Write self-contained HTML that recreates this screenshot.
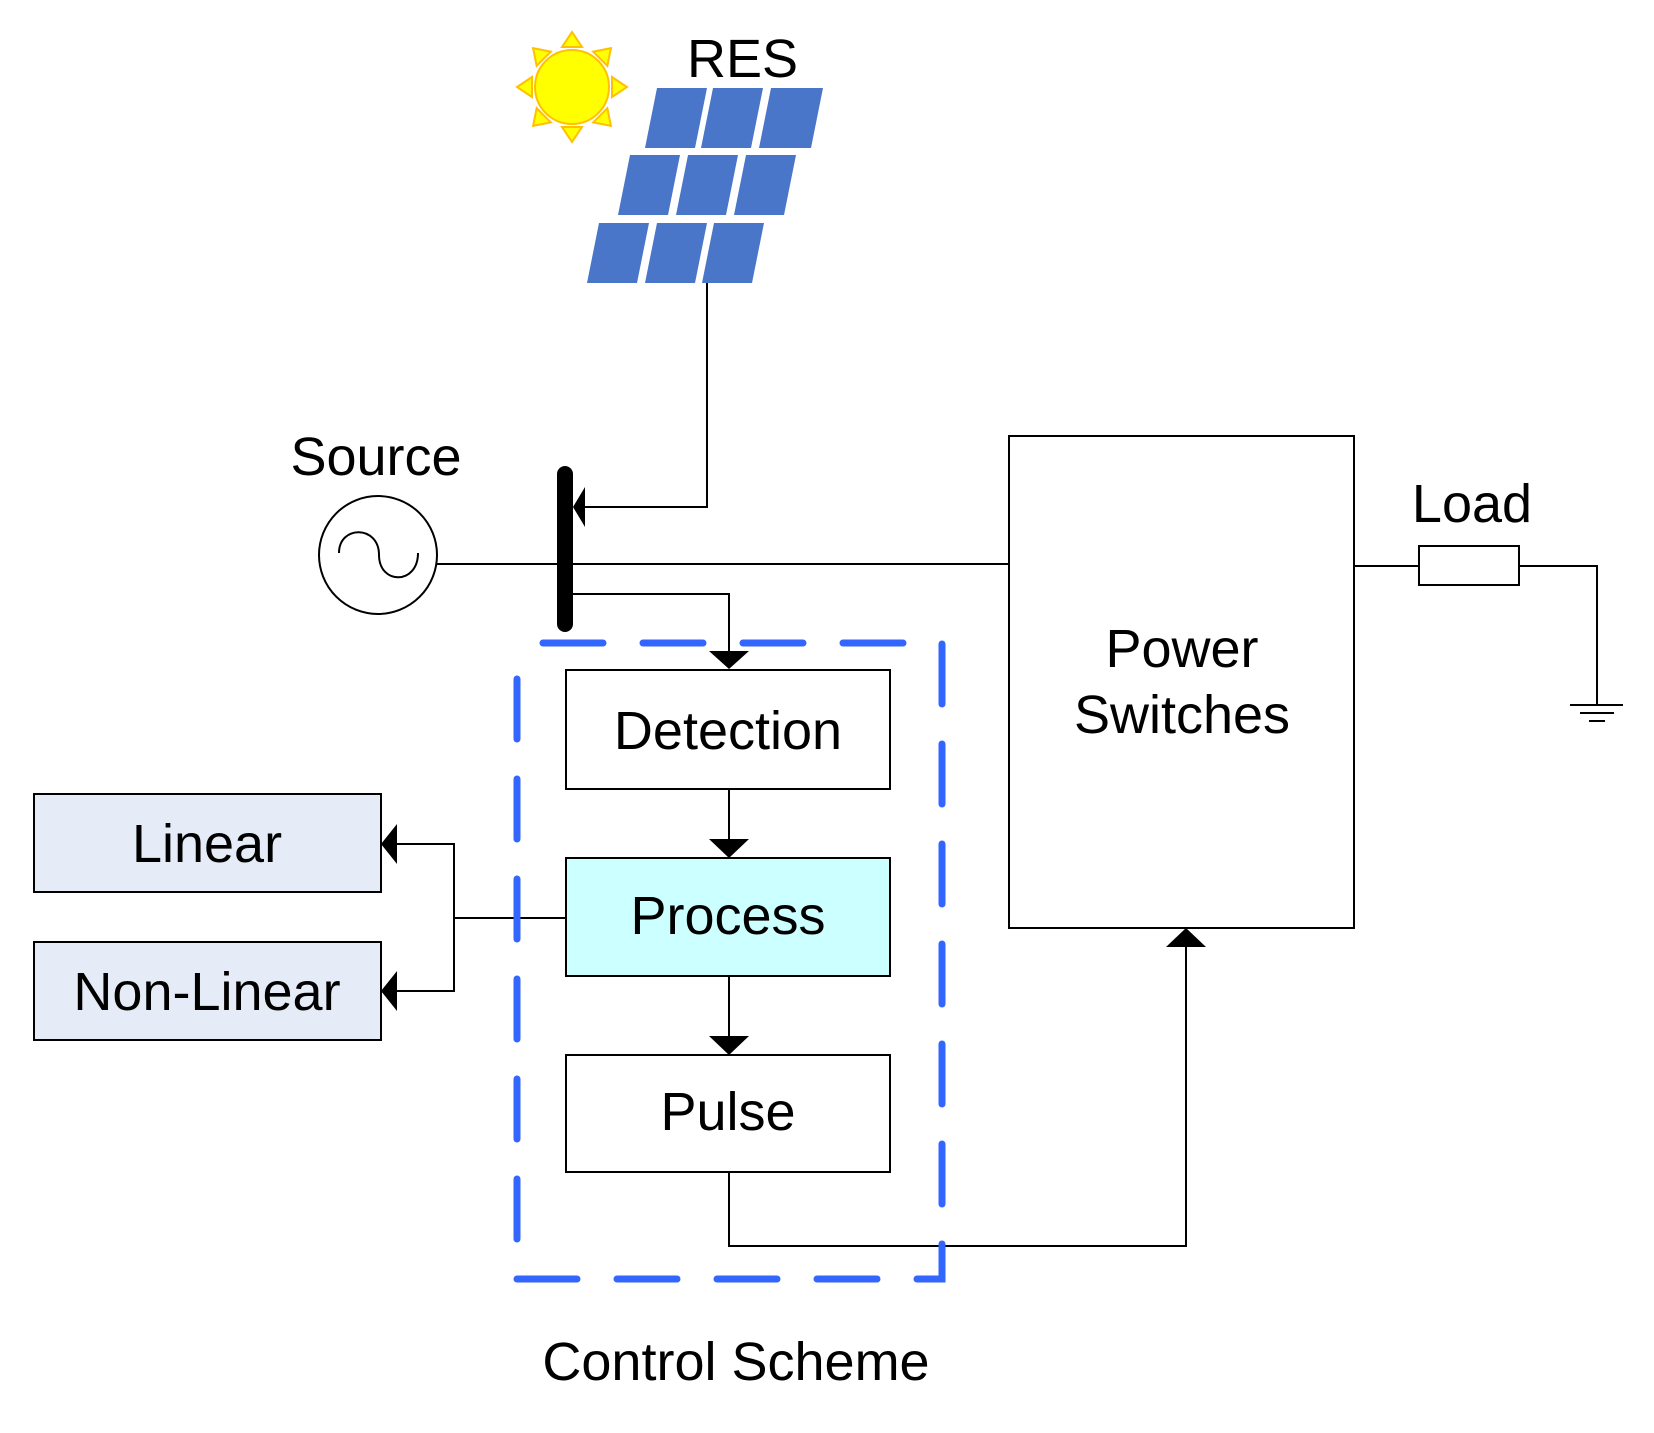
<!DOCTYPE html>
<html><head><meta charset="utf-8"><style>html,body{margin:0;padding:0;background:#fff}svg{display:block}text{font-family:"Liberation Sans",Arial,sans-serif;fill:#000}</style></head>
<body>
<svg width="1654" height="1433" viewBox="0 0 1654 1433" xmlns="http://www.w3.org/2000/svg">
<g fill="#ffff00" stroke="#ffc000" stroke-width="2">
<g transform="translate(572,87)">
<polygon points="-10,-40 10,-40 0,-55"/>
<polygon points="-10,40 10,40 0,55"/>
<polygon points="-40,-10 -40,10 -55,0"/>
<polygon points="40,-10 40,10 55,0"/>
<polygon points="-10,-40 10,-40 0,-55" transform="rotate(45)"/>
<polygon points="-10,-40 10,-40 0,-55" transform="rotate(135)"/>
<polygon points="-10,-40 10,-40 0,-55" transform="rotate(225)"/>
<polygon points="-10,-40 10,-40 0,-55" transform="rotate(315)"/>
<circle cx="0" cy="0" r="37"/>
</g></g>
<text x="687" y="77" font-size="54">RES</text>
<g fill="#4a76c9">
<polygon points="657,88 707,88 695,148 645,148"/>
<polygon points="713,88 763,88 751,148 701,148"/>
<polygon points="771,88 823,88 811,148 759,148"/>
<polygon points="630,155 680,155 668,215 618,215"/>
<polygon points="688,155 738,155 726,215 676,215"/>
<polygon points="746,155 796,155 784,215 734,215"/>
<polygon points="599,223 649,223 637,283 587,283"/>
<polygon points="657,223 707,223 695,283 645,283"/>
<polygon points="714,223 764,223 752,283 702,283"/>
</g>
<g stroke="#000" stroke-width="2" fill="none">
<polyline points="707,283 707,507 585,507"/>
<line x1="437" y1="564" x2="1009" y2="564"/>
<polyline points="573,594 729,594 729,651"/>
<circle cx="378" cy="555" r="59"/>
<path d="M339,553 C339,525 379,525 379,555 C379,585 418,585 418,553"/>
<rect x="566" y="670" width="324" height="119" fill="#fff"/>
<rect x="566" y="858" width="324" height="118" fill="#ccffff"/>
<rect x="566" y="1055" width="324" height="117" fill="#fff"/>
<line x1="729" y1="789" x2="729" y2="839"/>
<line x1="729" y1="976" x2="729" y2="1037"/>
<polyline points="566,918 454,918"/>
<polyline points="397,844 454,844 454,991 397,991"/>
<rect x="34" y="794" width="347" height="98" fill="#e6ecf7"/>
<rect x="34" y="942" width="347" height="98" fill="#e6ecf7"/>
<polyline points="729,1172 729,1246 1186,1246 1186,947"/>
<rect x="1009" y="436" width="345" height="492"/>
<line x1="1354" y1="566" x2="1419" y2="566"/>
<rect x="1419" y="546" width="100" height="39"/>
<polyline points="1519,566 1597,566 1597,705"/>
<line x1="1570" y1="705" x2="1623" y2="705"/>
<line x1="1580" y1="713" x2="1614" y2="713"/>
<line x1="1589" y1="721" x2="1605" y2="721"/>
</g>
<line x1="565" y1="474" x2="565" y2="624" stroke="#000" stroke-width="16" stroke-linecap="round"/>
<g fill="#000">
<polygon points="573,507 585,487 585,527"/>
<polygon points="729,669 709,651 749,651"/>
<polygon points="729,858 709,839 749,839"/>
<polygon points="729,1055 709,1036 749,1036"/>
<polygon points="381,844 397,824 397,864"/>
<polygon points="381,991 397,971 397,1011"/>
<polygon points="1186,928 1166,947 1206,947"/>
</g>
<rect x="517" y="643" width="425" height="636" fill="none" stroke="#3366ff" stroke-width="7" stroke-dasharray="60 40" stroke-linecap="round" stroke-dashoffset="-26"/>
<g font-size="54" text-anchor="middle">
<text x="376" y="475">Source</text>
<text x="728" y="749">Detection</text>
<text x="728" y="934">Process</text>
<text x="728" y="1130">Pulse</text>
<text x="207" y="862">Linear</text>
<text x="207" y="1010">Non-Linear</text>
<text x="1182" y="667">Power</text>
<text x="1182" y="733">Switches</text>
<text x="1472" y="522">Load</text>
<text x="736" y="1380">Control Scheme</text>
</g>
</svg>
</body></html>
